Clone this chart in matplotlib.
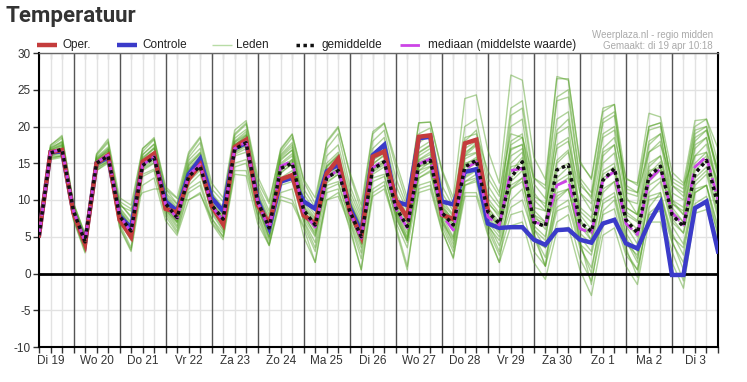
import numpy as np
import matplotlib.pyplot as plt
from matplotlib.lines import Line2D

plt.rcParams['font.family'] = ['Liberation Sans', 'DejaVu Sans']
plt.rcParams['axes.unicode_minus'] = False

# 6-hourly steps, from di 19 apr 06:00 to wo 4 mei 00:00
dagen = ["Di 19", "Wo 20", "Do 21", "Vr 22", "Za 23", "Zo 24", "Ma 25", "Di 26",
         "Wo 27", "Do 28", "Vr 29", "Za 30", "Zo 1", "Ma 2", "Di 3"]

oper = [5.2, 16.5, 16.8,
        8.2, 4.0, 15.0, 16.1,
        7.3, 5.0, 15.2, 16.3,
        8.8, 8.3, 12.8, 14.8,
        9.2, 6.7, 17.2, 18.2,
        9.3, 6.8, 12.8, 13.4,
        7.9, 6.8, 13.6, 15.6,
        8.5, 5.0, 15.9, 16.6,
        10.0, 7.6, 18.6, 18.8,
        8.0, 7.4, 17.7, 18.2,
        8.6]

controle = [5.2, 16.5, 16.6,
            8.3, 4.2, 15.0, 15.8,
            7.8, 6.2, 15.0, 16.0,
            9.8, 8.5, 13.5, 15.6,
            10.3, 8.5, 17.0, 17.8,
            10.0, 6.2, 12.5, 13.0,
            9.8, 8.8, 13.9, 14.8,
            9.0, 5.6, 16.1, 17.5,
            9.8, 9.3, 18.4, 18.6,
            9.8, 9.4, 13.8, 14.2,
            6.8, 6.2, 6.3, 6.3,
            4.6, 3.9, 5.9, 6.0,
            4.6, 4.2, 6.8, 7.3,
            4.1, 3.4, 6.9, 9.6,
            -0.2, -0.2, 8.9, 9.8,
            3.0]

gemiddelde = [5.2, 16.4, 16.9,
              8.5, 4.3, 15.0, 16.0,
              7.8, 5.8, 14.7, 15.8,
              9.5, 7.6, 13.2, 14.6,
              9.3, 7.4, 16.9, 17.8,
              9.8, 6.2, 14.3, 15.0,
              8.6, 6.6, 13.0, 14.0,
              8.5, 5.0, 14.2, 15.2,
              9.0, 6.4, 14.8, 15.4,
              8.3, 6.6, 14.5, 15.4,
              8.4, 6.8, 13.0, 15.2,
              7.0, 6.4, 14.1, 14.8,
              7.0, 5.7, 12.7, 14.3,
              7.3, 5.5, 13.2, 14.6,
              8.0, 6.4, 13.6, 15.4,
              9.3]

mediaan = [5.2, 16.5, 16.9,
           8.5, 4.3, 15.1, 16.1,
           7.9, 5.6, 14.8, 15.9,
           9.4, 7.5, 13.4, 14.8,
           9.2, 7.2, 17.0, 17.9,
           9.7, 6.0, 14.6, 15.3,
           8.4, 6.3, 13.0, 14.1,
           8.4, 4.8, 14.4, 15.4,
           8.8, 6.2, 14.9, 15.6,
           8.0, 5.9, 14.2, 15.2,
           7.7, 6.6, 14.0, 14.3,
           7.0, 6.6, 12.0, 12.7,
           6.1, 5.5, 12.7, 13.9,
           6.8, 5.3, 12.7, 14.3,
           8.3, 6.6, 14.5, 15.9,
           10.0]

leden = [
    [5.0, 16.8, 17.5, 8.8, 4.6, 15.4, 16.8, 8.5, 6.5, 15.8, 17.0, 10.0, 8.0, 14.0, 15.8,
     10.0, 7.8, 17.8, 18.8, 10.5, 7.0, 15.0, 16.3, 9.0, 7.2, 14.0, 15.5, 9.5, 6.0, 15.5, 16.5,
     10.0, 7.0, 16.0, 17.0, 9.0, 7.5, 16.5, 17.5, 9.5, 8.0, 18.0, 19.0, 9.0, 8.5, 19.0, 20.0,
     8.5, 7.0, 16.0, 17.5, 9.0, 8.0, 15.0, 16.0, 10.0, 8.0, 17.0, 18.5, 12.0],
    [4.8, 15.5, 15.8, 7.2, 2.8, 14.0, 15.2, 6.2, 3.0, 12.0, 13.0, 7.2, 5.2, 10.0, 11.0,
     6.8, 4.6, 13.5, 13.3, 6.8, 3.8, 10.0, 9.5, 6.2, 1.5, 10.0, 10.5, 6.5, 0.5, 10.5, 11.5,
     6.5, 1.0, 11.0, 11.5, 5.8, 2.2, 10.5, 10.5, 5.2, 1.5, 6.5, 7.0, 1.5, -0.8, 5.8, 6.3,
     0.5, -3.0, 5.2, 6.2, 1.0, -1.5, 7.0, 7.0, 1.5, -2.0, 8.2, 8.7, 3.5],
    [5.6, 17.4, 18.8, 9.6, 5.4, 16.3, 18.3, 10.3, 9.3, 17.0, 18.5, 11.8, 10.3, 16.5, 18.6,
     12.3, 10.3, 19.5, 20.8, 13.2, 9.8, 16.8, 18.9, 12.8, 10.3, 17.8, 19.8, 13.8, 9.3, 19.3, 20.5,
     15.3, 10.3, 20.5, 20.6, 14.2, 10.3, 23.8, 24.3, 16.8, 12.3, 27.0, 26.3, 15.8, 12.8, 26.8, 26.3,
     15.3, 12.8, 22.0, 23.0, 12.8, 12.3, 21.8, 21.3, 13.8, 12.3, 20.8, 21.0, 17.0],
    [5.2, 16.3, 17.0, 8.5, 4.2, 15.0, 16.0, 8.0, 5.5, 14.8, 16.0, 9.5, 7.5, 13.5, 14.8,
     9.3, 7.3, 17.0, 17.8, 9.8, 6.0, 14.3, 15.3, 8.5, 6.5, 13.0, 14.0, 8.5, 5.0, 14.0, 15.0,
     9.0, 6.0, 14.5, 15.5, 8.0, 6.0, 14.0, 15.0, 8.0, 6.5, 14.5, 15.0, 7.0, 6.5, 12.0, 13.0,
     6.0, 5.5, 14.0, 15.0, 7.0, 5.0, 12.5, 14.0, 8.0, 6.5, 14.0, 15.5, 9.5],
    [5.0, 16.0, 16.2, 7.8, 3.5, 14.6, 15.5, 7.2, 4.5, 14.0, 15.0, 8.8, 6.5, 12.0, 13.5,
     8.5, 6.0, 16.0, 16.5, 9.0, 5.0, 12.5, 13.5, 7.5, 5.0, 12.0, 12.5, 7.5, 3.5, 13.0, 13.5,
     7.5, 4.5, 13.0, 14.0, 7.0, 4.5, 12.5, 13.0, 6.5, 4.5, 10.0, 11.5, 4.5, 3.5, 9.0, 10.0,
     4.0, 2.5, 9.5, 10.5, 4.0, 2.5, 10.0, 10.5, 5.0, 3.5, 11.0, 12.0, 6.5],
    [5.4, 17.0, 18.0, 9.0, 5.0, 15.8, 17.2, 9.0, 7.0, 15.5, 17.0, 10.5, 8.8, 15.0, 16.5,
     10.5, 8.5, 18.0, 19.3, 11.0, 7.5, 16.0, 17.5, 10.0, 8.0, 15.0, 16.5, 10.5, 7.0, 16.0, 17.5,
     11.0, 8.0, 17.0, 18.0, 10.0, 8.0, 17.0, 18.0, 11.0, 9.0, 20.0, 21.0, 10.5, 9.5, 21.0, 22.0,
     11.0, 9.5, 18.5, 19.5, 10.0, 9.5, 18.0, 19.0, 11.0, 10.0, 18.5, 19.5, 13.5],
    [5.3, 16.9, 17.8, 9.2, 4.8, 15.6, 16.6, 8.4, 6.2, 16.2, 17.6, 10.0, 8.3, 14.6, 16.4,
     9.7, 7.6, 17.6, 18.4, 10.3, 6.8, 15.8, 17.2, 9.0, 6.8, 14.6, 16.2, 9.8, 6.2, 16.2, 17.2,
     9.2, 6.3, 15.2, 15.8, 7.3, 4.8, 13.2, 14.2, 6.8, 3.8, 9.0, 10.0, 5.2, 2.2, 8.5, 9.2,
     3.5, 0.8, 8.0, 8.8, 3.0, 0.5, 8.2, 9.5, 4.2, 1.5, 9.5, 10.5, 5.5],
    [4.6, 15.8, 16.0, 7.5, 3.2, 14.2, 15.4, 6.8, 3.5, 13.5, 14.2, 8.2, 5.8, 11.5, 12.5,
     7.5, 5.5, 15.0, 15.5, 8.2, 4.5, 12.0, 12.5, 7.0, 3.5, 11.5, 12.2, 7.2, 2.8, 12.5, 13.2,
     7.8, 4.2, 14.0, 15.2, 8.2, 5.8, 16.2, 17.8, 10.2, 8.2, 21.5, 22.5, 12.2, 10.2, 23.5, 24.0,
     12.5, 10.2, 20.5, 21.5, 11.0, 10.5, 20.0, 20.5, 12.0, 11.0, 19.5, 20.0, 14.0],
    [5.1, 16.5, 17.3, 8.6, 4.4, 15.2, 16.4, 7.6, 5.2, 15.0, 16.2, 9.2, 7.2, 13.8, 15.2,
     8.8, 6.8, 17.2, 18.2, 9.5, 5.8, 14.8, 16.0, 8.2, 6.2, 12.5, 13.5, 8.0, 4.5, 14.5, 15.5,
     8.5, 5.5, 15.5, 16.5, 8.8, 7.0, 16.0, 16.5, 8.5, 6.0, 13.0, 14.5, 6.0, 4.5, 15.0, 16.5,
     8.0, 6.0, 13.0, 14.0, 6.5, 4.0, 14.5, 16.0, 9.0, 7.0, 15.0, 16.5, 10.5],
    [4.9, 16.1, 16.7, 8.0, 3.9, 14.8, 15.7, 7.8, 5.9, 14.3, 15.4, 9.6, 7.8, 12.8, 14.2,
     9.0, 6.5, 16.5, 17.5, 9.6, 6.4, 13.8, 14.8, 8.6, 5.8, 13.5, 14.8, 8.8, 5.4, 14.8, 16.2,
     8.8, 6.2, 14.0, 14.6, 7.8, 5.0, 13.0, 14.0, 7.8, 5.8, 12.5, 14.0, 8.0, 7.0, 17.5, 18.5,
     7.5, 4.5, 11.0, 12.5, 5.5, 3.0, 12.0, 13.0, 7.0, 5.5, 13.0, 14.5, 8.5],
    [5.0, 15.6, 16.0, 8.0, 4.0, 14.0, 15.0, 9.8, 8.8, 11.0, 11.5, 11.5, 10.2, 10.0, 10.8,
     7.5, 5.0, 14.0, 14.0, 8.0, 4.0, 10.5, 10.0, 6.5, 3.0, 10.0, 11.0, 7.0, 2.0, 11.0, 12.0,
     7.0, 3.5, 12.0, 12.5, 6.5, 3.0, 11.0, 11.0, 6.0, 2.5, 8.0, 8.5, 3.0, 1.0, 7.0, 8.0,
     2.0, -1.0, 6.5, 7.5, 2.5, 0.5, 8.0, 8.5, 3.0, -1.0, 9.0, 9.5, 4.5],
    [5.5, 17.2, 18.4, 9.4, 5.2, 16.0, 17.8, 9.5, 7.8, 16.6, 18.2, 11.0, 9.4, 15.8, 17.8,
     11.0, 9.0, 18.8, 20.3, 12.0, 8.5, 16.5, 18.5, 11.5, 9.0, 17.0, 19.0, 12.0, 8.0, 18.0, 19.5,
     13.0, 9.0, 19.0, 19.8, 12.0, 9.0, 20.0, 21.0, 13.0, 10.5, 22.5, 23.5, 13.0, 11.5, 24.0, 25.0,
     13.0, 11.0, 21.0, 22.0, 11.5, 11.0, 19.5, 20.0, 12.5, 11.5, 20.0, 21.0, 15.0],
    [5.2, 16.6, 17.1, 8.4, 4.3, 15.1, 16.2, 8.2, 6.0, 15.2, 16.5, 9.2, 7.0, 13.5, 15.0,
     9.5, 7.5, 16.8, 17.5, 9.0, 5.5, 14.5, 15.5, 8.0, 6.5, 13.8, 15.0, 8.8, 5.5, 15.0, 16.0,
     10.0, 7.5, 16.5, 17.5, 9.5, 7.0, 15.0, 15.5, 9.0, 7.0, 16.0, 17.0, 8.0, 6.0, 11.0, 11.5,
     5.5, 4.0, 12.5, 14.0, 8.0, 7.0, 16.5, 18.0, 9.5, 8.5, 17.5, 18.5, 11.0],
    [5.3, 16.4, 16.6, 8.3, 3.8, 15.3, 16.0, 7.5, 5.3, 14.6, 15.6, 8.7, 6.9, 14.3, 16.0,
     9.0, 6.3, 17.5, 18.6, 9.3, 5.0, 14.0, 15.5, 7.8, 5.5, 12.8, 13.8, 8.0, 4.5, 13.8, 14.8,
     8.5, 5.0, 14.5, 15.0, 8.5, 6.5, 14.8, 15.8, 7.5, 5.5, 15.0, 16.5, 6.5, 5.0, 13.0, 14.5,
     6.5, 4.5, 16.5, 17.5, 9.0, 8.0, 14.0, 14.5, 7.5, 5.5, 12.5, 14.0, 8.0],
    [4.9, 16.2, 16.4, 8.1, 4.1, 14.7, 15.8, 7.0, 4.8, 15.0, 16.3, 8.5, 6.2, 12.5, 14.0,
     8.2, 5.8, 16.2, 17.0, 8.8, 4.8, 13.0, 14.0, 7.2, 4.2, 13.2, 14.5, 8.2, 4.0, 14.2, 15.2,
     8.2, 4.8, 13.5, 14.5, 7.5, 4.0, 12.0, 12.8, 7.0, 5.0, 11.5, 12.5, 6.0, 3.5, 10.5, 11.5,
     5.0, 3.0, 11.5, 12.5, 5.0, 2.0, 11.0, 12.5, 6.5, 4.0, 12.0, 13.5, 7.5],
    [5.5, 17.5, 18.6, 9.5, 5.3, 16.2, 18.0, 9.2, 8.5, 17.0, 18.3, 11.5, 9.5, 16.2, 18.4,
     11.5, 9.8, 19.0, 20.5, 12.5, 9.5, 17.0, 19.0, 12.5, 9.5, 18.0, 20.0, 13.5, 8.5, 19.0, 20.4,
     14.5, 9.5, 20.5, 20.6, 14.0, 9.5, 18.5, 19.0, 14.0, 11.0, 19.0, 18.5, 11.0, 9.0, 17.0, 18.0,
     11.0, 8.5, 17.0, 18.5, 12.0, 11.0, 16.5, 17.5, 13.0, 12.0, 16.0, 16.5, 12.5],
    [5.1, 16.7, 17.4, 8.7, 4.5, 15.4, 16.6, 8.6, 6.4, 15.4, 16.6, 10.2, 8.2, 14.2, 15.4,
     9.6, 7.4, 17.4, 18.8, 10.2, 6.6, 15.6, 16.8, 9.2, 7.4, 14.4, 16.0, 9.6, 6.4, 15.4, 16.4,
     9.4, 6.8, 15.4, 16.2, 9.2, 6.6, 16.0, 17.4, 9.8, 7.6, 16.8, 17.6, 8.6, 7.0, 15.4, 16.8,
     9.0, 7.6, 15.0, 16.4, 8.4, 7.2, 13.6, 15.2, 9.6, 8.0, 16.0, 17.6, 11.5],
    [4.7, 15.8, 16.0, 7.4, 3.0, 14.4, 15.2, 6.4, 3.2, 13.2, 14.0, 7.8, 5.5, 11.0, 12.0,
     7.0, 5.0, 14.5, 15.0, 7.5, 3.8, 11.0, 11.5, 5.0, 1.5, 11.0, 11.5, 6.0, 0.5, 11.5, 12.5,
     6.0, 0.5, 11.5, 12.0, 6.0, 2.0, 12.0, 12.5, 5.5, 1.5, 12.0, 13.0, 5.0, 1.0, 12.5, 13.5,
     4.0, 0.0, 10.0, 11.0, 4.5, 1.5, 10.5, 11.0, 5.5, 2.5, 11.5, 12.0, 6.0],
    [5.3, 16.5, 16.9, 8.5, 4.4, 15.0, 16.2, 8.0, 5.8, 14.9, 15.9, 9.4, 7.5, 13.4, 14.6,
     9.2, 7.2, 17.1, 17.9, 9.9, 6.1, 14.2, 15.1, 8.6, 6.4, 13.2, 14.2, 8.4, 5.1, 14.2, 15.2,
     8.6, 6.1, 14.8, 15.4, 8.2, 6.2, 14.5, 15.5, 8.5, 6.5, 13.8, 15.8, 7.5, 6.8, 14.0, 15.0,
     7.0, 5.5, 13.5, 14.5, 7.5, 6.0, 13.0, 14.5, 8.5, 7.0, 14.5, 16.0, 10.0],
    [5.2, 16.8, 17.6, 8.9, 4.7, 15.5, 16.9, 8.8, 6.8, 15.6, 17.2, 10.4, 8.5, 14.8, 16.2,
     10.2, 8.0, 17.9, 19.0, 10.7, 7.2, 15.4, 16.8, 9.6, 7.6, 14.6, 16.0, 10.0, 6.6, 16.0, 17.0,
     10.5, 7.6, 16.4, 17.4, 9.6, 7.8, 15.6, 16.4, 9.0, 6.5, 17.5, 18.5, 13.0, 12.0, 26.5, 26.5,
     15.0, 13.0, 22.5, 23.0, 10.5, 8.0, 17.5, 19.0, 10.0, 9.0, 19.0, 20.0, 13.0],
    [4.8, 16.0, 16.5, 7.9, 3.6, 14.5, 15.6, 7.4, 4.6, 14.2, 15.1, 9.0, 7.0, 13.2, 14.6,
     8.7, 6.4, 16.4, 17.3, 9.3, 5.6, 13.6, 15.0, 8.2, 5.2, 12.3, 13.5, 8.3, 4.0, 13.5, 14.5,
     8.0, 4.5, 13.0, 13.8, 7.0, 3.5, 12.5, 13.5, 6.5, 3.0, 11.5, 13.0, 5.5, 1.0, 10.0, 11.5,
     4.5, -1.5, 8.5, 10.0, 3.5, -0.5, 9.0, 11.0, 4.5, 0.5, 11.0, 12.0, 5.0],
    [5.4, 17.1, 17.9, 9.1, 4.9, 15.7, 17.0, 9.6, 7.6, 16.1, 17.6, 10.8, 9.0, 15.4, 17.0,
     10.9, 8.6, 18.4, 19.6, 11.5, 8.0, 16.2, 17.8, 10.8, 8.5, 16.0, 17.5, 11.2, 7.5, 17.0, 18.5,
     12.0, 8.5, 17.8, 18.8, 11.0, 8.5, 18.0, 19.5, 12.0, 9.5, 17.0, 17.5, 10.0, 8.5, 19.5, 21.0,
     12.0, 10.5, 19.0, 20.0, 13.0, 12.0, 20.0, 20.5, 12.0, 10.5, 18.0, 19.5, 14.0],
]

t = np.arange(len(controle))

W, H = 747, 382
fig = plt.figure(figsize=(W / 100, H / 100), dpi=100)
ax = fig.add_axes([39 / W, 35 / H, 679 / W, 294 / H])

# raster: licht elke 6 uur, donker om middernacht
for i in t:
    if i % 4 == 3:
        ax.axvline(i, color='#555555', lw=1, zorder=0.5)
    else:
        ax.axvline(i, color='#e2e2e2', lw=1, zorder=0.2)
for y in range(-10, 31, 5):
    ax.axhline(y, color='#e2e2e2', lw=1, zorder=0.2)

for lid in leden:
    ax.plot(t, lid, color='#4f9e1f', lw=1, alpha=0.45, zorder=1)

ax.axhline(0, color='black', lw=2, zorder=2)

ax.plot(t, controle, color='#3b3bc9', lw=3.2, zorder=3, solid_joinstyle='miter')
ax.plot(t[:len(oper)], oper, color='#c43c3c', lw=3.2, zorder=4, solid_joinstyle='miter')
ax.plot(t, mediaan, color='#cc44e6', lw=2, ls=(0, (5, 2)), zorder=5)
ax.plot(t, gemiddelde, color='#111111', lw=2.5, ls=(0, (1, 1)), zorder=6)

ax.set_xlim(0, t[-1])
ax.set_ylim(-10, 30)
ax.set_yticks(range(-10, 31, 5))
ax.set_xticks(t[1::4])
ax.set_xticklabels(dagen)
ax.set_xticks(t, minor=True)
ax.tick_params(axis='x', which='both', direction='out', length=4, width=1,
               color='#333333', labelsize=8.5, labelcolor='#333333', pad=2)
ax.tick_params(axis='y', direction='out', length=4, width=1, color='#333333',
               labelsize=8.5, labelcolor='#333333', pad=2)

top = ax.secondary_xaxis('top')
top.set_xticks(t)
top.tick_params(direction='in', length=4, color='#333333', labeltop=False)
top.spines['top'].set_visible(False)

for side in ['left', 'right', 'bottom']:
    ax.spines[side].set_color('black')
    ax.spines[side].set_linewidth(1.5)
ax.spines['top'].set_color('#666666')
ax.spines['top'].set_linewidth(1)

# legenda boven de grafiek, handmatig geplaatst (pixels vanaf links)
legenda = [
    ("Oper.", 37, 62, dict(color='#c43c3c', lw=3.2)),
    ("Controle", 117, 142, dict(color='#3b3bc9', lw=3.2)),
    ("Leden", 212, 236, dict(color='#b8dca6', lw=1)),
    ("gemiddelde", 296, 321, dict(color='#111111', lw=2.5, ls=(0, (1, 1)))),
    ("mediaan (middelste waarde)", 400, 428, dict(color='#cc44e6', lw=2, ls=(0, (7, 3, 1, 3)))),
]
ly = 1 - 45 / H
for tekst, x0, xt, stijl in legenda:
    fig.add_artist(Line2D([x0 / W, (x0 + 20) / W], [ly, ly], transform=fig.transFigure,
                          solid_capstyle='butt', dash_capstyle='butt', **stijl))
    fig.text(xt / W, ly, tekst, fontsize=8.5, color='#222222', ha='left', va='center')

fig.text(5 / W, 1 - 16 / H, "Temperatuur", fontsize=16, fontweight='bold',
         family=['Roboto', 'DejaVu Sans'], color='#333333', va='center', ha='left')
fig.text(713 / W, 1 - 35 / H, "Weerplaza.nl - regio midden", fontsize=7,
         color='#aaaaaa', ha='right', va='center')
fig.text(713 / W, 1 - 46 / H, "Gemaakt: di 19 apr 10:18", fontsize=7,
         color='#aaaaaa', ha='right', va='center')

fig.savefig('out.png', dpi=100)
